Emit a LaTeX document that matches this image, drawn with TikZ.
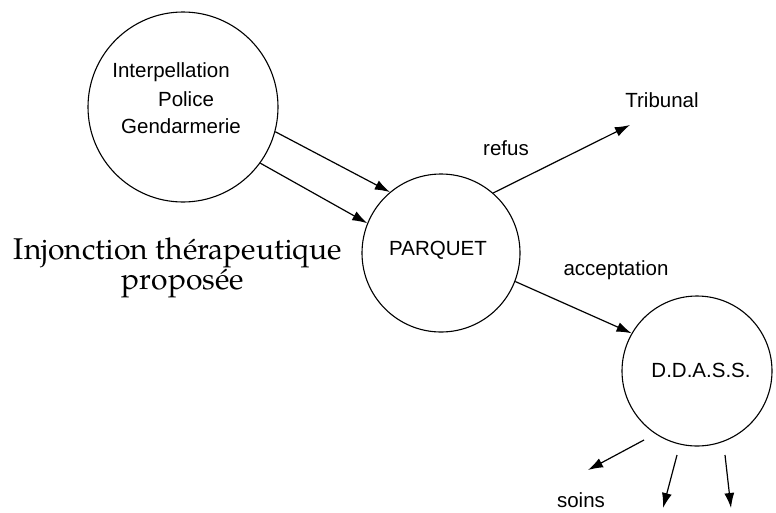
\documentclass[tikz,border=0pt]{standalone}
\usepackage{fontspec}
\usetikzlibrary{arrows.meta}
\newfontfamily\lsans{Liberation Sans}
\newfontfamily\pal{texgyrepagella-regular.otf}
\begin{document}
\begin{tikzpicture}[x=1pt,y=-1pt,
  circ/.style={circle,draw,line width=1.1pt,inner sep=0pt},
  lbl/.style={font=\lsans\fontsize{20.5}{24}\selectfont,inner sep=0pt,anchor=base},
  big/.style={font=\pal\fontsize{30}{34}\selectfont,inner sep=0pt,anchor=base},
  arr/.style={line width=1.2pt,-{Latex[length=15pt,width=10pt]}}]
\useasboundingbox (0,0) rectangle (776,512);
% circles
\node[circ,minimum size=190pt] (c1) at (183,107) {};
\node[circ,minimum size=158pt] (c2) at (441,253) {};
\node[circ,minimum size=150pt] (c3) at (697,371) {};
% texts
\node[lbl] (t1) at (171,77) {Interpellation};
\node[lbl] (t2) at (186,106) {Police};
\node[lbl] (t3) at (181,133) {Gendarmerie};
\node[lbl] (tp) at (438,255) {PARQUET};
\node[lbl] (td) at (701,377) {D.D.A.S.S.};
\node[lbl] (tt) at (662,107) {Tribunal};
\node[lbl] (tr) at (506,155) {refus};
\node[lbl] (ta) at (616,275) {acceptation};
\node[lbl] (ts) at (581,507) {soins};
\node[big] (i1) at (178,259) {Injonction thérapeutique};
\node[big] (i2) at (183,289) {proposée};
% free ends
\coordinate (trib) at (630,125);
\coordinate (s1) at (644,440);
\coordinate (s1e) at (588,470);
\coordinate (d1) at (677,455);
\coordinate (d1e) at (663,508);
\coordinate (d2) at (725,455);
\coordinate (d2e) at (731,508);
% connectors
\draw[arr] (c1.-15) -- (c2.130);
\draw[arr] (c1.-36) -- (c2.158);
\draw[arr] (c2.49) -- (trib);
\draw[arr] (c2.-21) -- (c3.150);
\draw[arr] (s1) -- (s1e);
\draw[arr] (d1) -- (d1e);
\draw[arr] (d2) -- (d2e);
\end{tikzpicture}
\end{document}
